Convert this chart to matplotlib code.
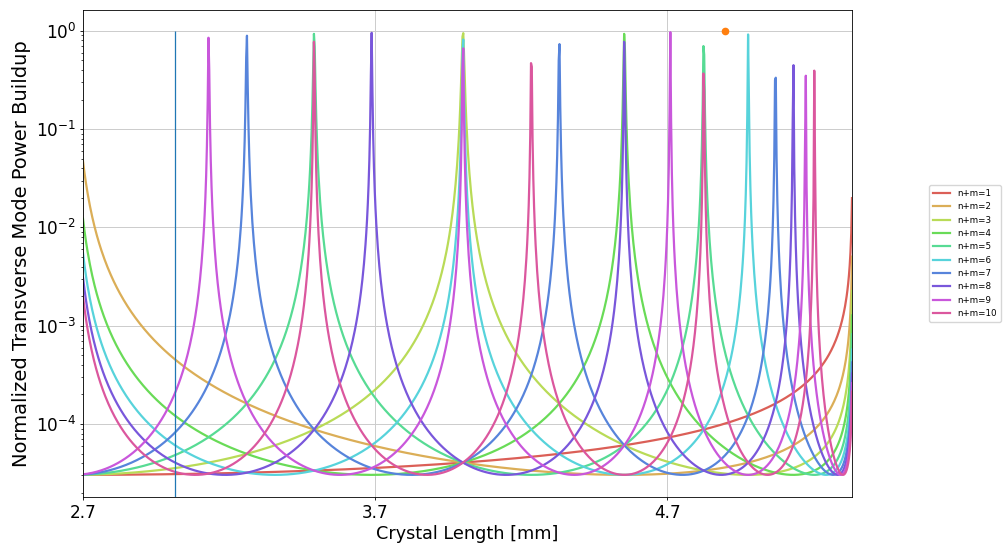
import numpy as np
import matplotlib
matplotlib.use("Agg")
import matplotlib.pyplot as plt
import seaborn as sns

# transverse mode orders n+m shown in the legend
orders = [1, 2, 3, 4, 5, 6, 7, 8, 9, 10]
labels = [f"n+m={k}" for k in orders]

# cavity parameters
R_eff = 2.667          # effective radius of curvature [mm] (confocal at L=R, concentric at 2R)
coef_F = 32900         # coefficient of finesse -> floor ~3e-5
L_start = 2.7          # crystal length range [mm]
L_stop = 5.332
n_pts = 1000

# markers
L_line = 3.015         # vertical line position [mm]
L_dot = 4.899          # orange dot
P_dot = 1.0

L = np.linspace(L_start, L_stop, n_pts)
g = 1 - L / R_eff
gouy = 2 * np.arccos(g)   # round trip gouy phase

colors = sns.color_palette("hls", len(orders))

plt.rcParams["axes.linewidth"] = 0.6
fig = plt.figure(figsize=(10.05, 5.44), dpi=100)
ax = fig.add_axes([83 / 1005, 47 / 544, 769 / 1005, 487 / 544])
for i, k in enumerate(orders):
    P = 1 / (1 + coef_F * np.sin(k * gouy / 2) ** 2)
    ax.plot(L, P, color=colors[i], lw=1.6, label=labels[i])

ax.set_yscale("log")
ax.set_xlim(L_start, L_stop)
ylim = ax.get_ylim()
ax.vlines(L_line, ylim[0], 1, color="C0", lw=0.9)
ax.plot(L_dot, P_dot, "o", color="C1", ms=4.5)
ax.set_ylim(ylim)

ax.set_xticks([2.7, 3.7, 4.7])
ax.tick_params(labelsize=12.2, length=2.5, pad=2.5, width=0.6)
ax.tick_params(which="minor", length=1.5, width=0.5)
ax.grid(True, which="major", color="#cccccc", lw=0.7)
ax.set_xlabel("Crystal Length [mm]", fontsize=12.7, labelpad=2)
ax.set_ylabel("Normalized Transverse Mode Power Buildup", fontsize=14, labelpad=3)
ax.legend(loc="center left", bbox_to_anchor=(1.095, 0.5), fontsize=6.3)

fig.savefig("out.png", dpi=100)
